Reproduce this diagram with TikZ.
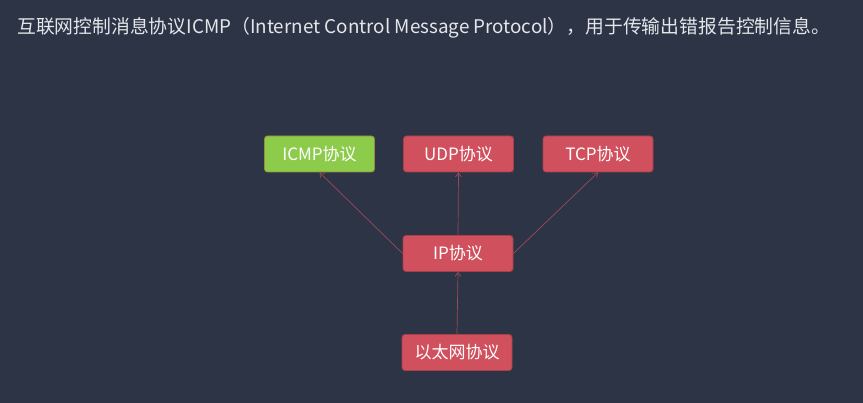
\documentclass[tikz,border=0pt]{standalone}
\usepackage{fontspec}
\setmainfont{Noto Sans CJK SC}
\usetikzlibrary{arrows.meta}
\definecolor{bg}{HTML}{2D3446}
\definecolor{boxred}{HTML}{D1505D}
\definecolor{boxredd}{HTML}{A8404B}
\definecolor{boxgreen}{HTML}{8DCC4B}
\definecolor{boxgreend}{HTML}{9A8A3A}
\definecolor{arrowc}{HTML}{9C4A56}
\definecolor{titlec}{HTML}{E4E6EA}
\tikzset{
  proto/.style={draw=boxredd, fill=boxred, line width=0.8pt, rounded corners=3pt,
    minimum width=110pt, minimum height=36pt, text=white, font=\fontsize{17}{19}\selectfont, inner sep=0pt},
  protogreen/.style={proto, draw=boxgreend, fill=boxgreen},
  link/.style={draw=arrowc, line width=0.7pt, -{Straight Barb[length=4pt,width=6pt]}}
}
\begin{document}
\begin{tikzpicture}[x=1pt,y=-1pt]
\fill[bg] (0,0) rectangle (863,403);
\useasboundingbox (0,0) rectangle (863,403);
\node[anchor=west, text=titlec, inner sep=0pt, font=\fontsize{16}{18}\selectfont] (title) at (17,28)
  {\resizebox{813pt}{!}{互联网控制消息协议ICMP（Internet Control Message Protocol），用于传输出错报告控制信息。}};
\node[protogreen] (icmp) at (319.5,154) {ICMP协议};
\node[proto] (udp) at (458.5,154) {UDP协议};
\node[proto] (tcp) at (598,154) {TCP协议};
\node[proto] (ip) at (458,253.5) {IP协议};
\node[proto] (eth) at (457,352.5) {以太网协议};
\draw[link] (ip.west) -- (icmp.south);
\draw[link] (ip.north) -- (udp.south);
\draw[link] (ip.east) -- (tcp.south);
\draw[link] (eth.north) -- (ip.south);
\end{tikzpicture}
\end{document}
